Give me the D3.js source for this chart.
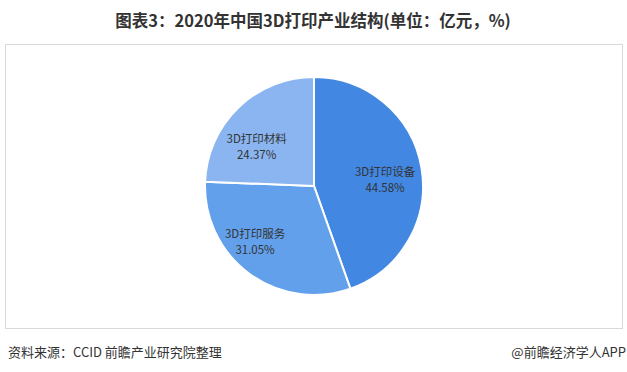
<!DOCTYPE html>
<html><head><meta charset="utf-8">
<script src="https://cdn.jsdelivr.net/npm/d3@7/dist/d3.min.js"></script>
<style>body{margin:0;background:#fff;}svg{display:block;}</style>
</head><body>
<svg id="c" width="627" height="372"></svg>
<script>
const categories = ["3D打印设备", "3D打印服务", "3D打印材料"];
const values = [44.58, 31.05, 24.37];
const colors = ["#4287e2", "#62a0eb", "#8ab5f0"];
const title = "图表3：2020年中国3D打印产业结构(单位：亿元，%)";
const source = "资料来源：CCID 前瞻产业研究院整理";
const brand = "@前瞻经济学人APP";

// layout-only nudges for the data labels (pixels), mimicking the original's label placement
const labelNudge = [[-2, 7], [-15, -4], [-6, 14]];

const svg = d3.select("#c");
const font = "'Noto Sans CJK SC', 'Noto Sans', sans-serif";

svg.append("text").attr("x", 313).attr("y", 27).attr("text-anchor", "middle")
  .attr("font-family", font).attr("font-weight", "bold").attr("font-size", 16.5)
  .attr("fill", "#333").text(title);

svg.append("rect").attr("x", 5.5).attr("y", 44.5).attr("width", 617).attr("height", 284)
  .attr("fill", "none").attr("stroke", "#d9d9d9").attr("stroke-width", 1);

const cx = 314, cy = 186, R = 109;
const pie = d3.pie().sort(null).value(d => d)(values);
const arc = d3.arc().innerRadius(0).outerRadius(R);
const labelArc = d3.arc().innerRadius(R * 0.68).outerRadius(R * 0.68);
const g = svg.append("g").attr("transform", `translate(${cx},${cy})`);
g.selectAll("path").data(pie).join("path")
  .attr("d", arc).attr("fill", (d, i) => colors[i])
  .attr("stroke", "#fff").attr("stroke-width", 2);

const lab = g.selectAll("g.l").data(pie).join("g").attr("class", "l")
  .attr("transform", (d, i) => {
    const c = labelArc.centroid(d);
    return `translate(${c[0] + labelNudge[i][0]},${c[1] + labelNudge[i][1]})`;
  });
lab.append("text").attr("text-anchor", "middle").attr("y", -4)
  .attr("font-family", font).attr("font-size", 11.5).attr("fill", "#333")
  .text((d, i) => categories[i]);
lab.append("text").attr("text-anchor", "middle").attr("y", 12)
  .attr("font-family", font).attr("font-size", 11.5).attr("fill", "#333")
  .text(d => d.data.toFixed(2) + "%");

svg.append("text").attr("x", 8).attr("y", 357).attr("font-family", font)
  .attr("font-size", 13).attr("fill", "#333").text(source);
svg.append("text").attr("x", 626).attr("y", 357).attr("text-anchor", "end").attr("font-family", font)
  .attr("font-size", 13).attr("fill", "#333").text(brand);
</script>
</body></html>
